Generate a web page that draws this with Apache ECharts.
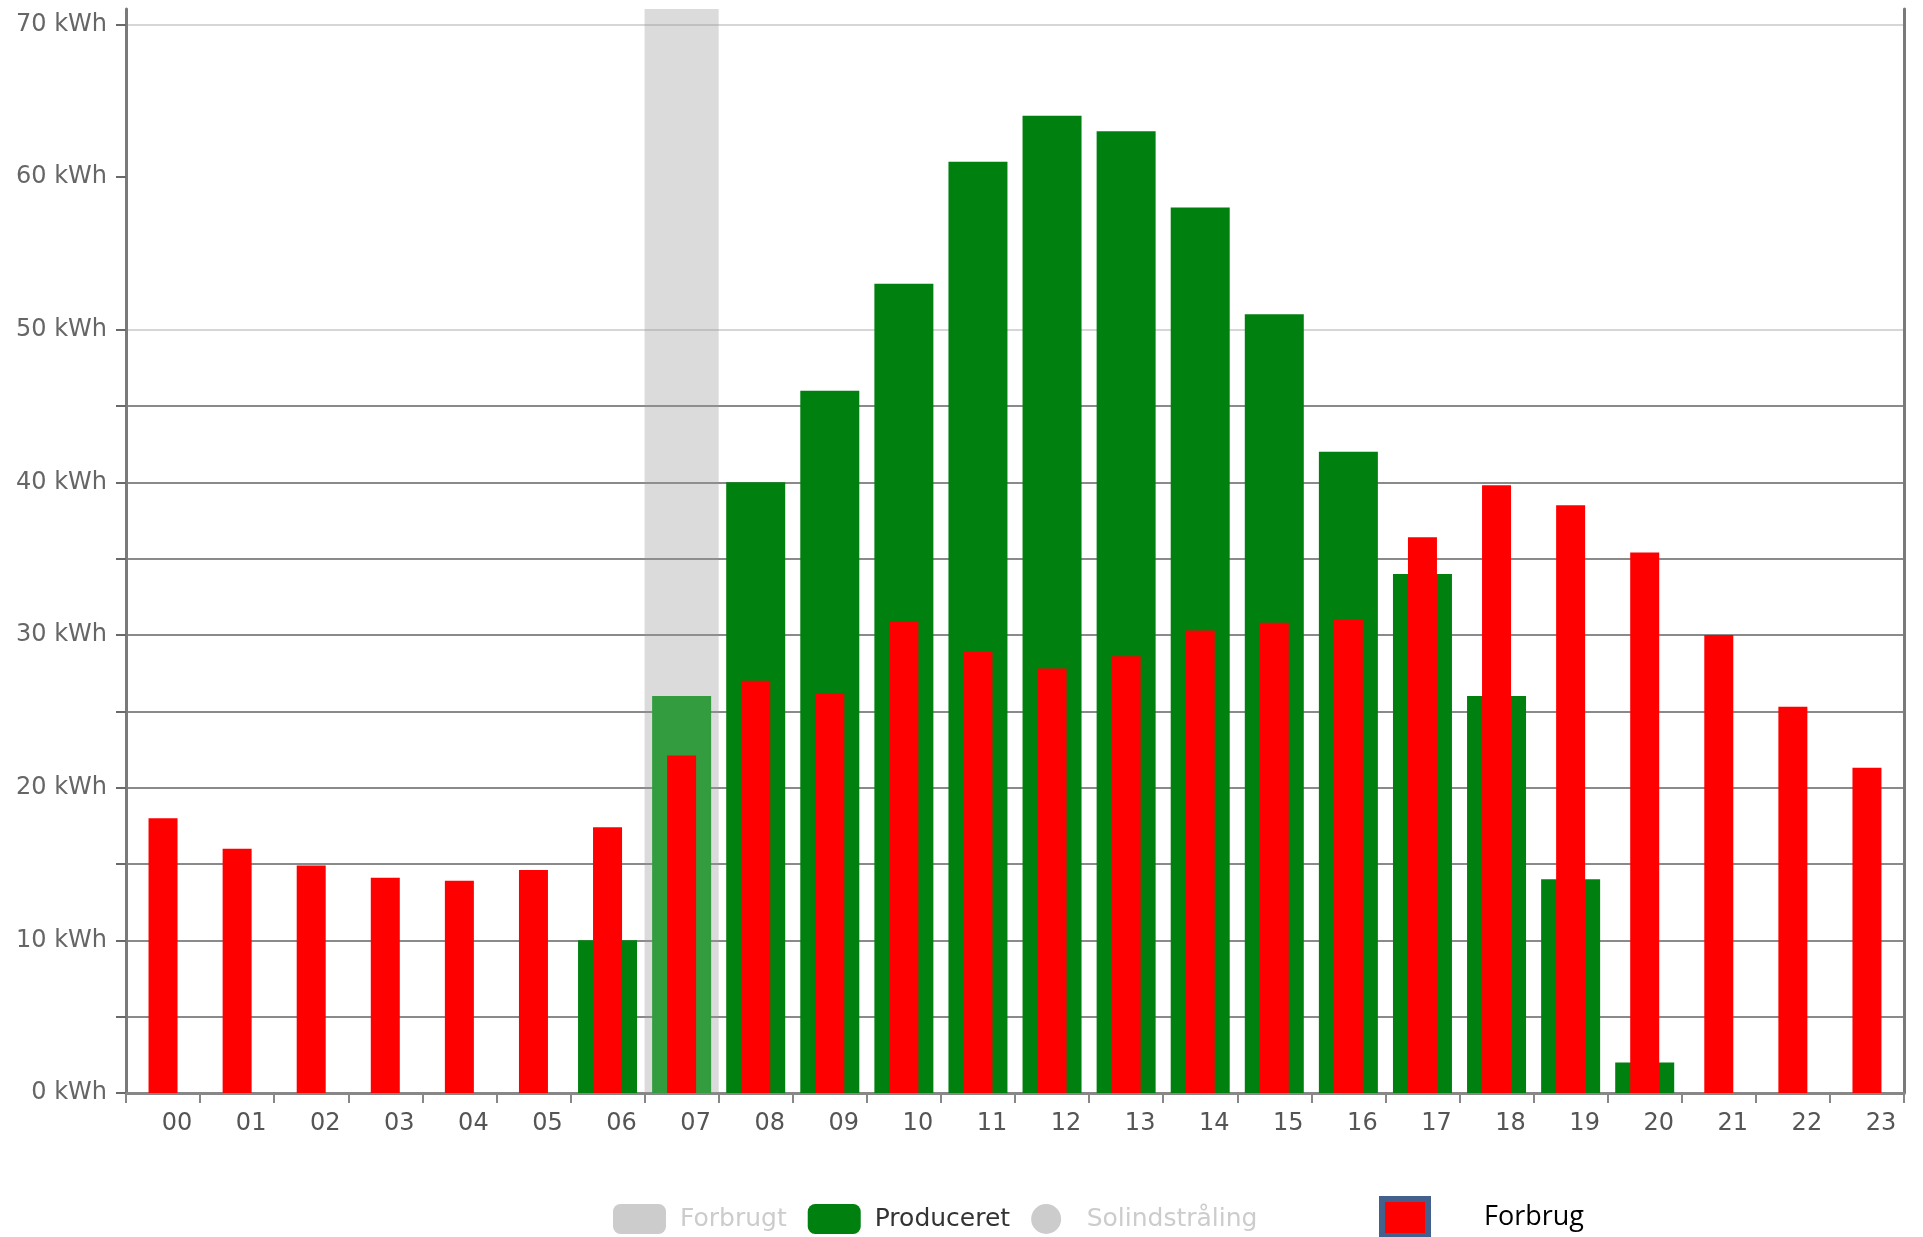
<!DOCTYPE html>
<html>
<head>
<meta charset="utf-8">
<script src="https://cdn.jsdelivr.net/npm/echarts@6/dist/echarts.min.js"></script>
<style>
  html, body { margin: 0; padding: 0; background: #ffffff; }
  #chart { width: 1923px; height: 1237px; }
</style>
</head>
<body>
<div id="chart"></div>
<script>
// ---- data ----
const hours = ['00','01','02','03','04','05','06','07','08','09','10','11','12','13','14','15','16','17','18','19','20','21','22','23'];
const produceret = [0, 0, 0, 0, 0, 0, 10, 26, 40, 46, 53, 61, 64, 63, 58, 51, 42, 34, 26, 14, 2, 0, 0, 0];
const forbrug = [18.0, 16.0, 14.9, 14.1, 13.9, 14.6, 17.4, 22.1, 27.0, 26.2, 30.9, 28.9, 27.8, 28.6, 30.3, 30.8, 31.0, 36.4, 39.8, 38.5, 35.4, 30.0, 25.3, 21.3];
const forbrugt = [];
const solindstraling = [];
const yTickValues = [0, 5, 10, 15, 20, 25, 30, 35, 40, 45, 50, 60, 70];
const yLabelValues = [0, 10, 20, 30, 40, 50, 60, 70];
const hoveredIndex = 7;

const FONT = 'DejaVu Sans';
const dark = '#8a8a8a', light = '#d6d6d6', none = 'rgba(0,0,0,0)';
// split line colours per 5-kWh tick: 0..45 dark, 50 light, 55 none, 60 light, 65 none, 70 light, top light
const splitColors = [dark, dark, dark, dark, dark, dark, dark, dark, dark, dark, light, none, light, none, light, light];

const producedData = produceret.map(function (v, i) {
  return i === hoveredIndex ? { value: v, itemStyle: { color: '#2e8e3a' } } : v;
});

const chart = echarts.init(document.getElementById('chart'), null, { renderer: 'canvas' });

const option = {
  animation: false,
  backgroundColor: '#ffffff',
  grid: { left: 126, right: 19, top: 9, bottom: 144, containLabel: false },
  tooltip: {
    trigger: 'axis',
    showContent: false,
    axisPointer: { type: 'shadow', z: 1, shadowStyle: { color: 'rgba(150,150,150,0.34)' } }
  },
  legend: [
    {
      data: [
        { name: 'Forbrugt', icon: 'roundRect' },
        { name: 'Produceret', icon: 'roundRect' },
        { name: 'Solindstråling', icon: 'circle' }
      ],
      selected: { 'Forbrugt': false, 'Solindstråling': false },
      left: 613, top: 1204, padding: 0,
      itemWidth: 53, itemHeight: 30, itemGap: 21,
      inactiveColor: '#cccccc',
      textStyle: { fontFamily: FONT, fontSize: 25, color: '#333333', padding: [0, 0, 0, 9] }
    },
    {
      data: [{ name: 'Forbrug', icon: 'rect' }],
      left: 1379, top: 1196, padding: 0,
      itemWidth: 46, itemHeight: 37,
      itemStyle: { borderColor: '#44618e', borderWidth: 6 },
      textStyle: { fontFamily: 'Open Sans', fontSize: 27, color: '#000000', padding: [0, 0, 0, 51] }
    }
  ],
  xAxis: [
    {
      type: 'category',
      data: hours,
      boundaryGap: true,
      axisLine: { show: true, lineStyle: { color: '#878787', width: 3 } },
      axisTick: { show: true, alignWithLabel: false, length: 10, lineStyle: { color: '#878787', width: 2 } },
      axisLabel: { fontFamily: FONT, fontSize: 24, color: '#555555', margin: 19, padding: [0, 0, 0, 28] },
      splitLine: { show: false },
      axisPointer: { z: 1 }
    },
    {
      type: 'category',
      data: hours,
      show: false,
      axisPointer: { show: false }
    }
  ],
  yAxis: [
    {
      type: 'value',
      position: 'left',
      min: 0, max: 71, interval: 5,
      axisLine: { show: true, lineStyle: { color: '#7a7a7a', width: 3 } },
      axisTick: { show: true, length: 10, customValues: yTickValues, lineStyle: { color: '#6a6a6a', width: 2 } },
      axisLabel: {
        fontFamily: FONT, fontSize: 24, color: '#666666', margin: 19,
        customValues: yLabelValues,
        formatter: function (v) { return yLabelValues.indexOf(v) >= 0 ? v + ' kWh' : ''; }
      },
      splitLine: { show: true, lineStyle: { color: splitColors, width: 2 } }
    },
    {
      type: 'value',
      position: 'right',
      min: 0, max: 71,
      axisLine: { show: true, lineStyle: { color: '#7a7a7a', width: 3 } },
      axisTick: { show: false },
      axisLabel: { show: false },
      splitLine: { show: false }
    }
  ],
  series: [
    {
      name: 'Forbrugt', type: 'bar', xAxisIndex: 0, yAxisIndex: 0,
      data: forbrugt, barWidth: 59, itemStyle: { color: '#cccccc' }
    },
    {
      name: 'Produceret', type: 'bar', xAxisIndex: 0, yAxisIndex: 0, z: 2,
      data: producedData, barWidth: 59,
      itemStyle: { color: '#00800f' }
    },
    {
      name: 'Solindstråling', type: 'line', xAxisIndex: 0, yAxisIndex: 0,
      data: solindstraling, itemStyle: { color: '#f5a623' }
    },
    {
      name: 'Forbrug', type: 'bar', xAxisIndex: 1, yAxisIndex: 0, z: 3,
      data: forbrug, barWidth: 29,
      itemStyle: { color: '#ff0000' }
    }
  ]
};

chart.setOption(option);
chart.dispatchAction({ type: 'showTip', seriesIndex: 1, dataIndex: hoveredIndex });
</script>
</body>
</html>
